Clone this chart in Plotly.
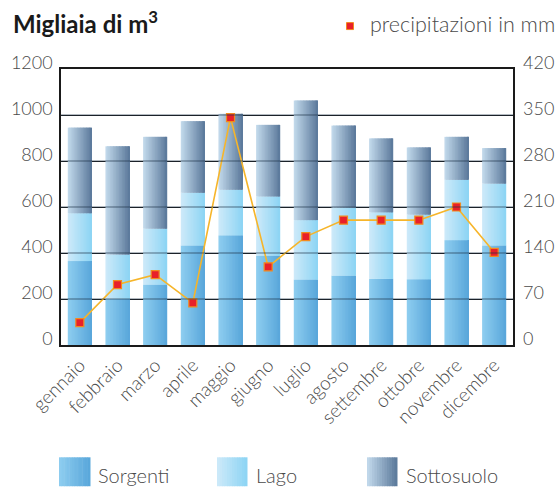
import plotly.graph_objects as go

# ---------------- data ----------------
mesi = ["gennaio", "febbraio", "marzo", "aprile", "maggio", "giugno",
        "luglio", "agosto", "settembre", "ottobre", "novembre", "dicembre"]
sorgenti = [365, 200, 263, 433, 477, 389, 285, 302, 288, 286, 456, 433]
lago = [208, 193, 243, 229, 198, 257, 258, 295, 289, 281, 262, 269]
sottosuolo = [372, 471, 399, 311, 330, 311, 520, 357, 321, 292, 187, 154]
precipitazioni = [34, 92, 107, 64, 346, 119, 165, 190, 190, 190, 210, 141]

left_ticks = [0, 200, 400, 600, 800, 1000, 1200]
right_ticks = [0, 70, 140, 210, 280, 350, 420]

series_names = ["Sorgenti", "Lago", "Sottosuolo"]
grad = {
    "Sorgenti": ((143, 206, 240), (88, 166, 218)),
    "Lago": ((206, 234, 249), (140, 212, 244)),
    "Sottosuolo": ((196, 219, 237), (90, 120, 154)),
}

# ---------------- helpers ----------------
L, R, T, B = 61, 513, 69, 345.5
W, H = 560, 491


def px(x):
    return (x - L) / (R - L)


def py(y):
    return (B - y) / (B - T)


def mix(c0, c1, t):
    return "rgb(%d,%d,%d)" % tuple(round(a + (b - a) * t) for a, b in zip(c0, c1))


fig = go.Figure()

NS = 16
bw = 0.64
step = bw / NS
vals = {"Sorgenti": sorgenti, "Lago": lago, "Sottosuolo": sottosuolo}
bases = {
    "Sorgenti": [0] * len(mesi),
    "Lago": list(sorgenti),
    "Sottosuolo": [s + l for s, l in zip(sorgenti, lago)],
}
for name in series_names:
    c0, c1 = grad[name]
    for i in range(NS):
        t = (i + 0.5) / NS
        off = -bw / 2 + i * step
        wid = min(step * 1.8, bw / 2 - off)
        fig.add_trace(go.Bar(
            x=mesi, y=vals[name], base=bases[name],
            width=wid, offset=off,
            marker=dict(color=mix(c0, c1, t), line=dict(width=0)),
            showlegend=False, hoverinfo="skip", name=name,
        ))

fig.add_trace(go.Scatter(
    x=mesi, y=precipitazioni, yaxis="y2", mode="lines+markers",
    line=dict(color="#f6b52a", width=1.6),
    marker=dict(symbol="square", size=8, color="#e8202a",
                line=dict(color="#f28a1e", width=1.2)),
    showlegend=False, name="precipitazioni in mm",
))

shapes = []
# gridlines seen through the bars
for v in left_ticks[1:-1]:
    shapes.append(dict(type="line", xref="paper", yref="y", x0=0, x1=1, y0=v, y1=v,
                       line=dict(color="rgba(30,50,70,0.45)", width=1.5), layer="above"))

# custom legend (bottom)
leg = [("Sorgenti", 59, 90, 96), ("Lago", 217, 247, 254), ("Sottosuolo", 367, 397, 404)]
annotations = []
for name, x0, x1, tx in leg:
    c0, c1 = grad[name]
    n = 12
    for i in range(n):
        a = x0 + (x1 - x0) * i / n
        b = x0 + (x1 - x0) * (i + 1) / n + 0.5
        shapes.append(dict(type="rect", xref="paper", yref="paper",
                           x0=px(a), x1=px(b), y0=py(487), y1=py(458),
                           fillcolor=mix(c0, c1, (i + 0.5) / n), line=dict(width=0),
                           layer="above"))
    annotations.append(dict(text=name, xref="paper", yref="paper", x=px(tx), y=py(476),
                            xanchor="left", yanchor="middle", showarrow=False,
                            font=dict(family="Lato", size=20, color="#4a4a4a", weight=300)))

# top legend for precipitation
shapes.append(dict(type="rect", xref="paper", yref="paper",
                   x0=px(346.5), x1=px(353.5), y0=py(29.5), y1=py(22.5),
                   fillcolor="#e8202a", line=dict(color="#f28a1e", width=1), layer="above"))
annotations.append(dict(text="precipitazioni in mm", xref="paper", yref="paper",
                        x=px(368), y=py(24), xanchor="left", yanchor="middle", showarrow=False,
                        font=dict(family="Lato", size=21.5, color="#4a4a4a", weight=300)))
annotations.append(dict(text="<b>Migliaia di m<sup>3</sup></b>", xref="paper", yref="paper",
                        x=px(11), y=py(22), xanchor="left", yanchor="middle", showarrow=False,
                        font=dict(family="Lato", size=24, color="#1a1a1a")))

axis_font = dict(family="Lato", size=18, color="#4a4a4a", weight=300)
fig.update_layout(
    width=W, height=H,
    margin=dict(l=L, r=W - R, t=T, b=H - B, pad=0, autoexpand=False),
    paper_bgcolor="white", plot_bgcolor="white",
    barmode="overlay",
    shapes=shapes, annotations=annotations,
    xaxis=dict(type="category", tickangle=-45, showgrid=False, automargin=False,
               showline=True, linecolor="#1a1a1a", linewidth=1.5, mirror=True,
               tickfont=dict(family="Lato", size=19, color="#4a4a4a", weight=300),
               range=[-0.5, len(mesi) - 0.5], ticks="", ticklabelstandoff=0),
    yaxis=dict(range=[0, 1200], tickvals=left_ticks, showgrid=True, automargin=False,
               gridcolor="#1a1a1a", gridwidth=1.3, zeroline=False,
               showline=True, linecolor="#1a1a1a", linewidth=1.5, mirror=True,
               tickfont=axis_font, ticks="", ticklabelstandoff=3, ticklabelshift=-6),
    yaxis2=dict(range=[0, 420], tickvals=right_ticks, overlaying="y", side="right",
                showgrid=False, zeroline=False, showline=False, automargin=False,
                tickfont=axis_font, ticks="", ticklabelstandoff=9, ticklabelshift=-6),
)

fig.write_html("out.html", config={"displayModeBar": False},
               post_script="document.body.style.margin='0';document.body.style.overflow='hidden';")
